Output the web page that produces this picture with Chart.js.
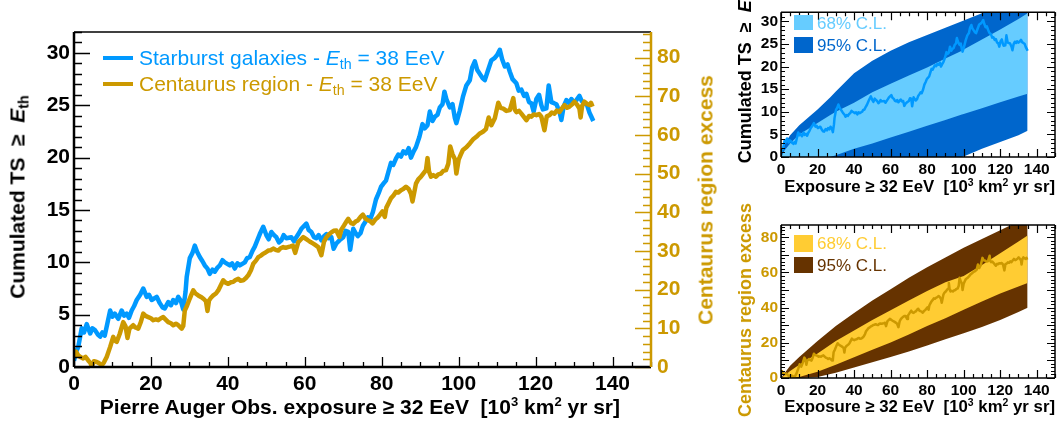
<!DOCTYPE html>
<html>
<head>
<meta charset="utf-8">
<script src="https://cdn.jsdelivr.net/npm/chart.js@4.4.1/dist/chart.umd.min.js"></script>
<style>
  body { margin: 0; background: #fff; width: 1063px; height: 423px; position: relative; overflow: hidden;
         font-family: "Liberation Sans", Arial, Helvetica, sans-serif; }
  canvas { position: absolute; }
  .txt { position: absolute; white-space: nowrap; line-height: 1; }
  .b { font-weight: bold; }
  .rc { transform: translate(-50%, -50%) rotate(-90deg); }
  sub { font-size: 68%; vertical-align: -0.3em; line-height: 0; }
  sup { font-size: 62%; vertical-align: 0.6em; line-height: 0; }
  .sw { position: absolute; }
</style>
</head>
<body>
<canvas id="main" width="730" height="423" style="left:0;top:0"></canvas>
<canvas id="topSmall" width="333" height="210" style="left:730px;top:0"></canvas>
<canvas id="botSmall" width="333" height="213" style="left:730px;top:210px"></canvas>

<!-- main chart texts -->
<div class="txt b rc" style="left:17px;top:197px;font-size:21px;">Cumulated TS&nbsp; &ge;&nbsp; <i>E</i><sub>th</sub></div>
<div class="txt b rc" style="left:705px;top:200px;font-size:21px;color:#cc9900;">Centaurus region excess</div>
<div class="txt b" style="right:443px;top:396px;font-size:21px;">Pierre Auger Obs. exposure &ge; 32 EeV&nbsp; [10<sup>3</sup> km<sup>2</sup> yr sr]</div>
<div class="sw" style="left:103px;top:56px;width:30px;height:4px;background:#0099ff"></div>
<div class="txt" style="left:139px;top:47px;font-size:21px;color:#0099ff;">Starburst galaxies - <i>E</i><sub>th</sub> = 38 EeV</div>
<div class="sw" style="left:103px;top:82px;width:30px;height:4px;background:#cc9900"></div>
<div class="txt" style="left:139px;top:73px;font-size:21px;color:#cc9900;">Centaurus region - <i>E</i><sub>th</sub> = 38 EeV</div>

<!-- top small texts -->
<div class="txt b rc" style="left:745px;top:76px;font-size:18px;">Cumulated TS&nbsp; &ge;&nbsp; <i>E</i><sub>th</sub></div>
<div class="txt b" style="right:8px;top:179px;font-size:16.8px;">Exposure &ge; 32 EeV&nbsp; [10<sup>3</sup> km<sup>2</sup> yr sr]</div>
<div class="sw" style="left:794px;top:15px;width:19px;height:15px;background:#66ccff"></div>
<div class="txt" style="left:817px;top:15px;font-size:17px;color:#66ccff;">68% C.L.</div>
<div class="sw" style="left:794px;top:37px;width:19px;height:16px;background:#0066cc"></div>
<div class="txt" style="left:817px;top:37px;font-size:17px;color:#0066cc;">95% C.L.</div>

<!-- bottom small texts -->
<div class="txt b rc" style="left:745px;top:310px;font-size:18px;color:#cc9900;">Centaurus region excess</div>
<div class="txt b" style="right:8px;top:399px;font-size:16.8px;">Exposure &ge; 32 EeV&nbsp; [10<sup>3</sup> km<sup>2</sup> yr sr]</div>
<div class="sw" style="left:794px;top:235px;width:19px;height:17px;background:#ffcc33"></div>
<div class="txt" style="left:817px;top:235px;font-size:17px;color:#ffcc33;">68% C.L.</div>
<div class="sw" style="left:794px;top:257px;width:19px;height:16px;background:#663300"></div>
<div class="txt" style="left:817px;top:257px;font-size:17px;color:#663300;">95% C.L.</div>

<script>
// Starburst galaxies: cumulated TS vs exposure [10^3 km2 yr sr]
const sbExposure = [0.0, 0.6, 1.1, 2.0, 2.6, 3.3, 4.2, 4.8, 5.5, 6.2, 6.8, 7.4, 8.0, 8.7, 9.4, 10.0, 10.6, 11.5, 12.4, 13.0,
  13.7, 14.3, 15.0, 15.6, 16.3, 17.2, 18.0, 18.9, 19.5, 20.2, 21.5, 22.3, 23.0, 23.6, 24.5, 25.2, 25.8, 26.5, 27.1, 27.8,
  28.4, 29.0, 29.3, 30.1, 30.8, 31.4, 32.0, 32.7, 33.4, 34.0, 34.7, 35.3, 36.0, 36.6, 37.3, 37.9, 38.6, 39.2, 40.5, 41.1,
  41.8, 42.5, 43.1, 44.4, 45.0, 45.7, 46.4, 47.0, 48.3, 49.2, 50.0, 50.6, 51.3, 52.0, 52.6, 53.3, 53.9, 54.5, 55.2, 56.5,
  57.2, 57.8, 58.5, 59.1, 60.4, 61.0, 61.7, 62.4, 63.0, 63.6, 64.3, 65.0, 65.6, 66.2, 66.9, 67.5, 68.2, 69.0, 70.0, 70.6,
  71.3, 71.8, 72.6, 73.2, 73.8, 74.5, 75.1, 75.8, 76.4, 77.0, 77.7, 78.5, 79.2, 79.8, 80.4, 81.1, 81.7, 82.4, 83.0, 83.7,
  84.3, 85.0, 85.6, 86.3, 87.0, 87.6, 88.3, 88.9, 89.8, 90.6, 91.2, 91.9, 92.5, 93.2, 93.8, 94.5, 95.1, 95.8, 96.3, 96.8,
  97.7, 98.4, 99.0, 99.4, 100.3, 101.1, 102.0, 102.9, 103.5, 104.2, 104.8, 105.5, 106.2, 106.8, 107.5, 108.5, 109.3, 110.0,
  110.7, 111.3, 112.0, 112.7, 113.3, 114.0, 115.0, 115.6, 116.3, 117.0, 117.6, 118.3, 118.9, 119.5, 120.2, 120.9, 121.5,
  121.9, 122.8, 123.4, 124.1, 124.8, 125.4, 126.2, 126.7, 127.3, 128.0, 128.7, 129.3, 130.0, 130.6, 131.4, 132.0, 132.7,
  133.4, 134.0, 134.5, 135.0];
const sbTS = [0.6, 1.5, 1.9, 3.7, 3.3, 4.1, 3.2, 3.7, 3.5, 3.1, 2.9, 3.3, 3.0, 4.2, 5.4, 4.8, 5.1, 4.6, 5.4, 4.9,
  5.1, 4.7, 5.4, 5.8, 6.4, 6.9, 7.5, 6.7, 6.9, 6.4, 6.7, 6.1, 5.7, 5.6, 6.2, 5.9, 6.4, 6.1, 6.7, 6.3,
  5.5, 7.2, 8.6, 10.4, 10.9, 11.6, 11.0, 10.5, 10.1, 9.7, 9.4, 8.9, 9.3, 9.1, 9.5, 9.7, 10.2, 10.0, 9.7, 9.9,
  9.4, 9.9, 9.7, 10.0, 10.4, 10.5, 11.1, 11.5, 12.7, 13.4, 12.6, 12.2, 12.9, 12.6, 12.4, 11.9, 12.1, 12.6, 12.3, 12.4,
  12.0, 12.4, 12.8, 13.2, 13.7, 13.1, 12.9, 12.4, 12.3, 12.6, 12.1, 12.5, 12.7, 12.3, 12.4, 11.3, 11.8, 12.1, 12.4, 13.0,
  12.9, 11.2, 13.2, 12.8, 12.5, 12.8, 13.5, 13.9, 14.3, 14.1, 14.8, 16.0, 16.6, 17.2, 17.5, 17.8, 18.6, 19.5, 19.3, 19.9,
  20.3, 20.1, 20.6, 20.4, 20.9, 20.0, 20.6, 21.0, 22.0, 23.2, 22.8, 23.1, 24.4, 23.5, 23.9, 24.1, 24.8, 25.1, 26.3, 25.6,
  24.8, 25.1, 23.8, 23.3, 24.5, 25.8, 26.9, 27.4, 28.6, 29.2, 28.4, 28.0, 27.6, 27.4, 28.2, 29.3, 29.5, 29.8,
  30.3, 29.4, 28.7, 28.9, 28.2, 27.5, 27.1, 26.4, 26.5, 25.9, 26.1, 25.3, 25.2, 24.4, 25.6, 26.0, 25.0,
  24.6, 24.7, 26.9, 25.3, 25.2, 25.1, 24.4, 23.6, 24.9, 25.5, 25.2, 25.6, 25.3, 25.5, 25.9, 25.4, 25.2,
  25.0, 24.3, 23.9, 23.5];

// Centaurus region: excess vs exposure
const cenExposure = [0.0, 0.5, 1.1, 1.8, 2.4, 3.0, 3.7, 4.3, 4.6, 5.2, 5.9, 6.5, 7.2, 7.8, 8.5, 9.4, 10.2, 10.6, 11.1, 11.9,
  12.8, 13.4, 13.9, 14.4, 15.4, 16.0, 16.7, 17.4, 18.0, 18.6, 19.3, 20.0, 20.6, 21.3, 21.9, 22.6, 23.2, 23.9, 24.5, 25.2,
  25.8, 26.5, 27.1, 27.6, 28.0, 28.4, 28.8, 29.4, 30.1, 30.6, 31.0, 31.6, 32.3, 33.0, 33.6, 34.3, 34.7, 35.1, 35.6, 36.2,
  36.9, 37.5, 38.1, 38.8, 39.4, 40.1, 40.8, 41.4, 42.0, 42.7, 43.3, 44.0, 44.7, 45.3, 46.0, 46.6, 47.3, 47.9, 48.6, 49.2,
  49.8, 50.5, 51.1, 51.8, 52.4, 53.1, 53.7, 54.4, 55.0, 55.6, 56.3, 56.9, 57.5, 58.3, 58.9, 59.6, 60.2, 60.9, 61.5, 62.2,
  62.8, 63.5, 64.3, 65.0, 65.6, 66.2, 66.9, 67.5, 68.2, 69.0, 69.5, 70.2, 70.8, 71.3, 72.0, 72.6, 73.2, 73.8, 74.5, 75.1,
  75.7, 76.3, 77.0, 77.6, 78.3, 78.9, 79.5, 80.2, 80.8, 81.2, 81.8, 82.4, 83.1, 83.7, 84.3, 85.0, 85.6, 86.3, 87.0, 87.6,
  88.0, 88.9, 89.5, 90.2, 90.8, 91.5, 91.9, 92.3, 92.8, 93.4, 94.1, 94.7, 95.4, 96.0, 96.7, 97.3, 97.8, 98.4, 99.0, 99.4,
  100.0, 100.6, 101.1, 102.0, 102.9, 103.7, 104.6, 105.4, 106.3, 107.1, 107.8, 108.5, 109.4, 110.3, 110.9, 111.6, 112.4,
  113.3, 114.2, 114.6, 115.0, 115.7, 116.3, 117.0, 117.6, 118.3, 118.9, 119.5, 120.2, 120.9, 121.5, 122.3, 122.9, 123.6,
  124.2, 124.9, 125.5, 126.2, 126.8, 127.5, 128.2, 128.8, 129.5, 130.1, 130.8, 131.4, 131.7, 132.1, 132.7, 133.4, 134.0,
  134.4, 134.8];
const cenExcess = [2.6, 4.0, 3.0, 2.5, 2.2, 2.6, 1.7, 1.0, 0.0, 1.5, 1.3, 1.0, 0.4, 1.2, 2.6, 5.2, 7.8, 6.8, 6.5, 8.6,
  11.6, 10.5, 7.5, 9.9, 10.8, 10.2, 9.9, 11.7, 13.8, 13.2, 12.9, 12.6, 12.1, 12.3, 12.1, 12.6, 12.9, 12.2, 11.6, 11.3,
  10.8, 11.2, 10.8, 10.3, 9.9, 10.6, 14.6, 15.9, 17.7, 18.9, 19.8, 19.0, 18.5, 18.1, 17.7, 17.0, 14.5, 17.2, 17.9, 18.5,
  19.0, 19.8, 21.0, 22.4, 21.8, 21.5, 21.9, 22.0, 22.5, 22.8, 22.3, 22.4, 23.0, 23.7, 25.0, 26.7, 27.5, 28.4, 28.8, 29.3,
  29.6, 30.1, 30.2, 30.6, 30.3, 30.1, 30.7, 31.0, 30.8, 31.0, 31.2, 31.4, 29.5, 32.3, 32.9, 33.6, 33.2, 32.7, 32.3, 31.9,
  31.5, 31.0, 28.9, 32.4, 33.5, 34.2, 34.8, 35.2, 35.3, 33.6, 35.5, 36.6, 37.6, 38.3, 37.2, 37.0, 37.6, 37.9, 38.8, 39.4,
  38.4, 38.0, 37.7, 37.1, 38.1, 38.6, 39.3, 40.2, 38.8, 41.2, 42.4, 43.6, 44.4, 45.3, 45.1, 45.7, 46.0, 46.6, 46.0, 44.8,
  42.8, 47.4, 48.5, 49.2, 50.0, 50.9, 54.0, 50.5, 49.2, 49.6, 49.2, 49.8, 50.0, 50.7, 50.9, 52.5, 57.0, 55.0, 53.8, 50.0,
  53.6, 55.0, 56.1, 56.8, 57.8, 58.8, 59.5, 60.3, 60.8, 61.5, 64.5, 62.5, 64.3, 68.3, 67.0, 66.8, 66.2,
  66.4, 69.5, 66.5, 65.9, 66.2, 65.5, 64.6, 63.8, 64.9, 64.7, 65.3, 65.1, 65.4, 64.7, 61.2, 64.8, 65.1,
  65.8, 65.5, 66.3, 65.9, 66.8, 67.7, 67.0, 67.3, 67.9, 68.6, 67.8, 66.8, 64.5, 67.5, 68.6, 68.0, 67.7,
  68.3, 67.3];

// isotropic expectation bands, starburst TS
const tsBandExposure = [0, 2, 5, 10, 20, 27, 30, 40, 50, 60, 70, 80, 90, 99, 100, 110, 120, 130, 135];
const ts95Up = [0, 3.0, 4.8, 7.0, 10.5, 13.2, 14.5, 18.5, 21.3, 23.5, 25.4, 27.0, 28.6, 30.0, 30.2, 31.8, 33.3, 34.8, 35.5];
const ts68Up = [0, 1.5, 3.0, 5.0, 7.5, 9.3, 10.0, 12.0, 14.3, 16.2, 18.0, 19.8, 21.8, 23.5, 23.8, 26.0, 28.2, 30.5, 31.8];
const ts68Lo = [0, 0, 0, 0, 0, 0, 0.4, 1.8, 3.0, 4.3, 5.6, 6.9, 8.2, 9.4, 9.5, 10.8, 12.1, 13.4, 14.0];
const ts95Lo = [0, 0, 0, 0, 0, 0, 0, 0, 0, 0, 0, 0, 0, 0, 0.1, 1.8, 3.3, 4.8, 5.8];

// isotropic expectation bands, Centaurus excess
const cenBandExposure = [0, 5, 10, 20, 30, 40, 50, 60, 70, 80, 90, 100, 110, 120, 130, 135];
const cen95Up = [0, 7.0, 12.0, 21.0, 29.5, 37.0, 44.0, 50.5, 57.0, 63.0, 68.5, 74.0, 79.0, 84.0, 89.0, 91.0];
const cen68Up = [0, 4.0, 7.5, 14.0, 21.0, 27.0, 33.0, 38.5, 44.0, 49.5, 54.5, 58.0, 64.3, 71.0, 77.6, 81.0];
const cen68Lo = [0, 0, 0.5, 3.5, 7.6, 11.8, 16.0, 20.2, 24.8, 29.5, 34.0, 38.8, 43.5, 48.0, 52.0, 54.0];
const cen95Lo = [0, 0, 0, 0.5, 3.0, 6.0, 9.0, 12.0, 15.0, 18.5, 22.0, 25.5, 29.0, 33.0, 37.5, 40.0];

const FONT = '"Liberation Sans", Arial, Helvetica, sans-serif';
const BLUE = '#0099ff', GOLD = '#cc9900';

const pts = (xs, ys) => xs.map((x, i) => ({ x: x, y: ys[i] }));

// ROOT-like inner ticks + frame
const innerTicks = {
  id: 'innerTicks',
  afterDatasetsDraw(chart, args, opts) {
    const ctx = chart.ctx, a = chart.chartArea;
    ctx.save();
    ctx.lineCap = 'butt';
    (opts.axes || []).forEach(ax => {
      const s = chart.scales[ax.id];
      ctx.strokeStyle = ax.color;
      ctx.lineWidth = ax.width || 1.3;
      const n = Math.floor((s.max - s.min) / ax.minor + 1e-6);
      ctx.beginPath();
      for (let i = 0; i <= n; i++) {
        const v = s.min + i * ax.minor;
        const r = v / ax.major;
        const len = Math.abs(r - Math.round(r)) < 1e-6 ? ax.majorLen : ax.minorLen;
        const p = Math.round(s.getPixelForValue(v)) + 0.5;
        ax.sides.forEach(side => {
          if (side === 'left') { ctx.moveTo(a.left, p); ctx.lineTo(a.left + len, p); }
          if (side === 'right') { ctx.moveTo(a.right, p); ctx.lineTo(a.right - len, p); }
          if (side === 'bottom') { ctx.moveTo(p, a.bottom); ctx.lineTo(p, a.bottom - len); }
          if (side === 'top') { ctx.moveTo(p, a.top); ctx.lineTo(p, a.top + len); }
        });
      }
      ctx.stroke();
    });
    (opts.frame || []).forEach(f => {
      ctx.strokeStyle = f.color;
      ctx.lineWidth = f.width;
      ctx.beginPath();
      if (f.side === 'left') { ctx.moveTo(a.left, a.top); ctx.lineTo(a.left, a.bottom); }
      if (f.side === 'right') { ctx.moveTo(a.right, a.top); ctx.lineTo(a.right, a.bottom); }
      if (f.side === 'top') { ctx.moveTo(a.left, a.top); ctx.lineTo(a.right, a.top); }
      if (f.side === 'bottom') { ctx.moveTo(a.left, a.bottom); ctx.lineTo(a.right, a.bottom); }
      ctx.stroke();
    });
    ctx.restore();
  }
};

function tickFont(size) {
  return { family: FONT, size: size, weight: 'bold' };
}

function lineSet(data, color, width, extra) {
  return Object.assign({ data: data, borderColor: color, backgroundColor: color, borderWidth: width,
    pointRadius: 0, tension: 0, fill: false, borderJoinStyle: 'round' }, extra || {});
}

function bandSet(data, color, fillTo, order) {
  return { data: data, borderWidth: 0, borderColor: color, backgroundColor: color, pointRadius: 0,
    tension: 0, fill: fillTo === null ? false : { target: fillTo }, order: order };
}

const baseOpts = {
  responsive: false,
  animation: false,
  devicePixelRatio: 1,
  events: []
};

// ---- main chart ----
new Chart(document.getElementById('main'), {
  type: 'line',
  data: {
    datasets: [
      lineSet(pts(sbExposure, sbTS), BLUE, 4.5, { yAxisID: 'y', order: 1 }),
      lineSet(pts(cenExposure, cenExcess), GOLD, 4.5, { yAxisID: 'y2', order: 0 })
    ]
  },
  options: Object.assign({}, baseOpts, {
    layout: { padding: { top: 32, left: 0, right: 0, bottom: 0 } },
    plugins: {
      legend: { display: false },
      tooltip: { enabled: false },
      innerTicks: {
        axes: [
          { id: 'y', sides: ['left'], major: 5, minor: 1, majorLen: 16, minorLen: 8, color: '#000' },
          { id: 'y2', sides: ['right'], major: 10, minor: 2, majorLen: 16, minorLen: 8, color: GOLD },
          { id: 'x', sides: ['bottom'], major: 20, minor: 5, majorLen: 10, minorLen: 5, color: '#000' }
        ],
        frame: [
          { side: 'top', color: '#000', width: 1.5 },
          { side: 'left', color: '#000', width: 2.5 },
          { side: 'bottom', color: '#000', width: 2.5 },
          { side: 'right', color: GOLD, width: 2.5 }
        ]
      }
    },
    scales: {
      x: {
        type: 'linear', min: 0, max: 150,
        afterFit: s => { s.height = 56; },
        grid: { display: false, drawTicks: false }, border: { display: false },
        ticks: { stepSize: 20, includeBounds: false, padding: 5, color: '#000', font: tickFont(21), maxRotation: 0 }
      },
      y: {
        position: 'left', min: 0, max: 32,
        afterFit: s => { s.width = 74; },
        grid: { display: false, drawTicks: false }, border: { display: false },
        ticks: { stepSize: 5, includeBounds: false, padding: 4, color: '#000', font: tickFont(21) }
      },
      y2: {
        position: 'right', min: 0, max: 86.6,
        afterFit: s => { s.width = 79; },
        grid: { display: false, drawTicks: false }, border: { display: false },
        ticks: { stepSize: 10, includeBounds: false, padding: 6, color: GOLD, font: tickFont(21) }
      }
    }
  }),
  plugins: [innerTicks]
});

// ---- small charts ----
function smallChart(id, bandX, up95, lo95, up68, lo68, c95, c68, lineX, lineY, lineColor, yMax, yMajor, yMinor,
                    yColor, topPad, xHeight) {
  return new Chart(document.getElementById(id), {
    type: 'line',
    data: {
      datasets: [
        lineSet(pts(lineX, lineY), lineColor, 2.5, { order: 0 }),
        bandSet(pts(bandX, up68), c68, 2, 1),
        bandSet(pts(bandX, lo68), c68, null, 1),
        bandSet(pts(bandX, up95), c95, 4, 2),
        bandSet(pts(bandX, lo95), c95, null, 2)
      ]
    },
    options: Object.assign({}, baseOpts, {
      layout: { padding: { top: topPad, left: 0, right: 8, bottom: 0 } },
      plugins: {
        legend: { display: false },
        tooltip: { enabled: false },
        innerTicks: {
          axes: [
            { id: 'y', sides: ['left', 'right'], major: yMajor, minor: yMinor, majorLen: 8, minorLen: 4, color: '#000', width: 1.2 },
            { id: 'x', sides: ['bottom', 'top'], major: 20, minor: 5, majorLen: 8, minorLen: 4, color: '#000', width: 1.2 }
          ],
          frame: [
            { side: 'top', color: '#000', width: 1.5 },
            { side: 'right', color: '#000', width: 1.5 },
            { side: 'left', color: '#000', width: 1.5 },
            { side: 'bottom', color: '#000', width: 1.5 }
          ]
        }
      },
      scales: {
        x: {
          type: 'linear', min: 0, max: 150,
          afterFit: s => { s.height = xHeight; },
          grid: { display: false, drawTicks: false }, border: { display: false },
          ticks: { stepSize: 20, includeBounds: false, padding: 3, color: '#000', font: tickFont(15.5), maxRotation: 0 }
        },
        y: {
          position: 'left', min: 0, max: yMax,
          afterFit: s => { s.width = 51; },
          grid: { display: false, drawTicks: false }, border: { display: false },
          ticks: { stepSize: yMajor, includeBounds: false, padding: 3, color: yColor, font: tickFont(15.5) }
        }
      }
    }),
    plugins: [innerTicks]
  });
}

smallChart('topSmall', tsBandExposure, ts95Up, ts95Lo, ts68Up, ts68Lo, '#0066cc', '#66ccff',
  sbExposure, sbTS, BLUE, 32, 5, 1, '#000', 5, 53);
smallChart('botSmall', cenBandExposure, cen95Up, cen95Lo, cen68Up, cen68Lo, '#663300', '#ffcc33',
  cenExposure, cenExcess, GOLD, 87, 10, 2, GOLD, 15, 45);
</script>
</body>
</html>
